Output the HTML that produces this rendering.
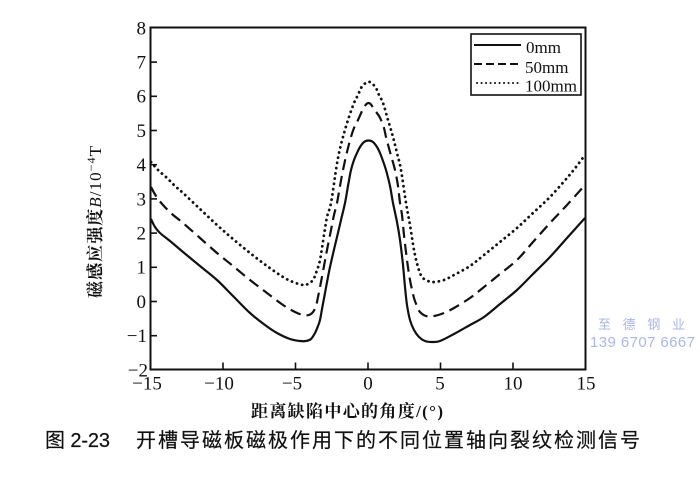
<!DOCTYPE html>
<html>
<head>
<meta charset="utf-8">
<style>
  html, body { margin: 0; padding: 0; background: #ffffff; }
  svg { display: block; }
  .tick { font-family: "Liberation Serif", serif; font-size: 19px; fill: #111; }
  .leg { font-family: "Liberation Serif", serif; font-size: 17px; fill: #111; }
</style>
</head>
<body>
<svg id="chart" width="700" height="483" viewBox="0 0 700 483" xmlns="http://www.w3.org/2000/svg">
  <rect x="0" y="0" width="700" height="483" fill="#ffffff"/>

  <!-- frame -->
  <rect x="150.5" y="27.5" width="435" height="342" fill="none" stroke="#111" stroke-width="2"/>

  <!-- y ticks (inward) -->
  <g stroke="#111" stroke-width="1.6">
    <line x1="150.5" y1="62.1" x2="157" y2="62.1"/>
    <line x1="150.5" y1="96.3" x2="157" y2="96.3"/>
    <line x1="150.5" y1="130.5" x2="157" y2="130.5"/>
    <line x1="150.5" y1="164.7" x2="157" y2="164.7"/>
    <line x1="150.5" y1="198.9" x2="157" y2="198.9"/>
    <line x1="150.5" y1="233.1" x2="157" y2="233.1"/>
    <line x1="150.5" y1="267.3" x2="157" y2="267.3"/>
    <line x1="150.5" y1="301.5" x2="157" y2="301.5"/>
    <line x1="150.5" y1="335.7" x2="157" y2="335.7"/>
  </g>
  <!-- x ticks (inward) -->
  <g stroke="#111" stroke-width="1.6">
    <line x1="223" y1="369.5" x2="223" y2="362.5"/>
    <line x1="295.5" y1="369.5" x2="295.5" y2="362.5"/>
    <line x1="368" y1="369.5" x2="368" y2="362.5"/>
    <line x1="440.5" y1="369.5" x2="440.5" y2="362.5"/>
    <line x1="513" y1="369.5" x2="513" y2="362.5"/>
  </g>

  <!-- y tick labels -->
  <g class="tick" text-anchor="end">
    <text x="146" y="34.3">8</text>
    <text x="146" y="68.5">7</text>
    <text x="146" y="102.7">6</text>
    <text x="146" y="136.9">5</text>
    <text x="146" y="171.1">4</text>
    <text x="146" y="205.3">3</text>
    <text x="146" y="239.5">2</text>
    <text x="146" y="273.7">1</text>
    <text x="146" y="307.9">0</text>
    <text x="147" y="342.1">−1</text>
    <text x="148" y="376.3">−2</text>
  </g>
  <!-- x tick labels -->
  <g class="tick" text-anchor="middle">
    <text x="147" y="389.5">−15</text>
    <text x="219" y="389.5">−10</text>
    <text x="292" y="389.5">−5</text>
    <text x="368" y="389.5">0</text>
    <text x="440" y="389.5">5</text>
    <text x="513" y="389.5">10</text>
    <text x="586" y="389.5">15</text>
  </g>

  <!-- curves -->
  <g fill="none" stroke="#111" stroke-linejoin="round">
    <!-- 0mm solid -->
    <polyline class="smooth" stroke-width="2.2" points="151,219 155,227 160,233 170,241 183,252 200,266 217,280 233,296 250,313 265,325 277,333 290,339 300,341 306,341 311,339 315,333 318,326 320,320 322,309 325,293 330,267 337,237 341,220 345,203 348,186 351,170 354,160 357,153 360,147 364,142 368.5,140.5 373,142 377,147 380,153 383,161 386,170 390,186 393,203 397,222 400,240 403,265 405,287 407,305 410,320 414,330 419,337 425,341 432,342 440,341 454,334 470,325 484,317 500,304 517,290 533,274 550,257 567,238 576,228 585,218"/>
    <!-- 50mm dashed -->
    <polyline class="smooth" stroke-width="2.2" stroke-dasharray="11,6" points="151,187 156,196 163,205 172,214 183,223 200,238 217,253 233,266 250,280 267,293 283,305 295,312 303,315 309,315 313,312 316,306 318,297 321,282 324,266 327,250 331,230 334,215 337,203 340,186 343,170 347,152 351,137 354,128 358,120 363,109 366,104.5 368.5,103 371,104.5 374,109 379,116 381,120 384,128 386,137 390,152 395,170 398,186 400,203 402,215 404,235 407,260 410,280 414,298 417,306 420,312 426,316 434,316 444,313 454,308 470,298 484,287 500,274 517,260 533,242 550,223 567,205 585,185"/>
    <!-- 100mm dotted -->
    <polyline class="smooth" stroke-width="2.8" stroke-linecap="round" stroke-dasharray="0.1,5.2" points="151,162 158,170 167,178 175,186 183,193 200,209 217,225 233,239 250,253 267,266 283,277 293,282 303,285 308,284 313,280 316,273 320,260 324,235 327,217 331,203 336,170 339,153 343,137 348,120 354,103 358,95 361,88 365,83.5 368.5,81.7 372,83.5 376,88 379,95 383,103 388,120 393,137 397,153 401,170 406,203 410,225 414,250 418,267 422,277 428,281 434,282 444,280 454,275 470,266 484,255 500,242 517,228 533,213 550,197 567,178 576,167 585,155"/>
  </g>

  <!-- legend -->
  <rect x="471" y="34" width="110" height="61" fill="#fff" stroke="#111" stroke-width="1.6"/>
  <line x1="474" y1="45" x2="521" y2="45" stroke="#111" stroke-width="2"/>
  <line x1="474" y1="64" x2="521" y2="64" stroke="#111" stroke-width="2" stroke-dasharray="8,4"/>
  <line x1="477" y1="83" x2="521" y2="83" stroke="#111" stroke-width="2" stroke-linecap="round" stroke-dasharray="0.1,4.4"/>
  <text class="leg" x="526" y="53">0mm</text>
  <text class="leg" x="525" y="73">50mm</text>
  <text class="leg" x="525" y="91.5">100mm</text>

  <!-- y axis label -->
  <text transform="translate(101,222) rotate(-90)" text-anchor="middle" textLength="152" lengthAdjust="spacing"
        font-family="'Liberation Serif', 'Noto Serif CJK SC', serif" font-size="17" font-weight="bold" fill="#111">磁感应强度<tspan font-style="italic" font-weight="normal">B</tspan><tspan font-weight="normal">/10</tspan><tspan font-weight="normal" font-size="12" dy="-6">−4</tspan><tspan font-weight="normal" dy="6">T</tspan></text>

  <!-- x axis label -->
  <text x="251" y="417" textLength="192" lengthAdjust="spacing"
        font-family="'Liberation Serif', 'Noto Serif CJK SC', serif" font-size="17" font-weight="bold" fill="#111">距离缺陷中心的角度/(°)</text>

  <!-- caption -->
  <text x="45" y="447" textLength="65" lengthAdjust="spacing" stroke="#111" stroke-width="0.2"
        font-family="'Liberation Sans', 'Noto Sans CJK SC', sans-serif" font-size="20" fill="#111">图 2-23</text>
  <text x="136" y="447" textLength="504" lengthAdjust="spacing" stroke="#111" stroke-width="0.2"
        font-family="'Liberation Sans', 'Noto Sans CJK SC', sans-serif" font-size="20" fill="#111">开槽导磁板磁极作用下的不同位置轴向裂纹检测信号</text>

  <!-- watermark -->
  <text x="598" y="329" textLength="87" lengthAdjust="spacing"
        font-family="'Liberation Sans', 'Noto Sans CJK SC', sans-serif" font-size="13" fill="#aab6e6">至德钢业</text>
  <text x="590" y="347" textLength="105" lengthAdjust="spacing"
        font-family="'Liberation Sans', sans-serif" font-size="15" fill="#aab6e6">139 6707 6667</text>
</svg>
<script>
(function () {
  var NS = "http://www.w3.org/2000/svg";
  var lines = document.querySelectorAll("polyline.smooth");
  for (var k = 0; k < lines.length; k++) {
    var pl = lines[k];
    var raw = pl.getAttribute("points").trim().split(/\s+/);
    var p = raw.map(function (s) { var a = s.split(","); return [parseFloat(a[0]), parseFloat(a[1])]; });
    var d = "M" + p[0][0] + "," + p[0][1];
    for (var i = 0; i < p.length - 1; i++) {
      var p0 = p[i - 1] || p[i], p1 = p[i], p2 = p[i + 1], p3 = p[i + 2] || p[i + 1];
      var c1x = p1[0] + (p2[0] - p0[0]) / 6, c1y = p1[1] + (p2[1] - p0[1]) / 6;
      var c2x = p2[0] - (p3[0] - p1[0]) / 6, c2y = p2[1] - (p3[1] - p1[1]) / 6;
      d += " C" + c1x.toFixed(2) + "," + c1y.toFixed(2) + " " + c2x.toFixed(2) + "," + c2y.toFixed(2) + " " + p2[0] + "," + p2[1];
    }
    var path = document.createElementNS(NS, "path");
    for (var j = 0; j < pl.attributes.length; j++) {
      var at = pl.attributes[j];
      if (at.name !== "points" && at.name !== "class") path.setAttribute(at.name, at.value);
    }
    path.setAttribute("d", d);
    pl.parentNode.replaceChild(path, pl);
  }
})();
</script>
</body>
</html>
